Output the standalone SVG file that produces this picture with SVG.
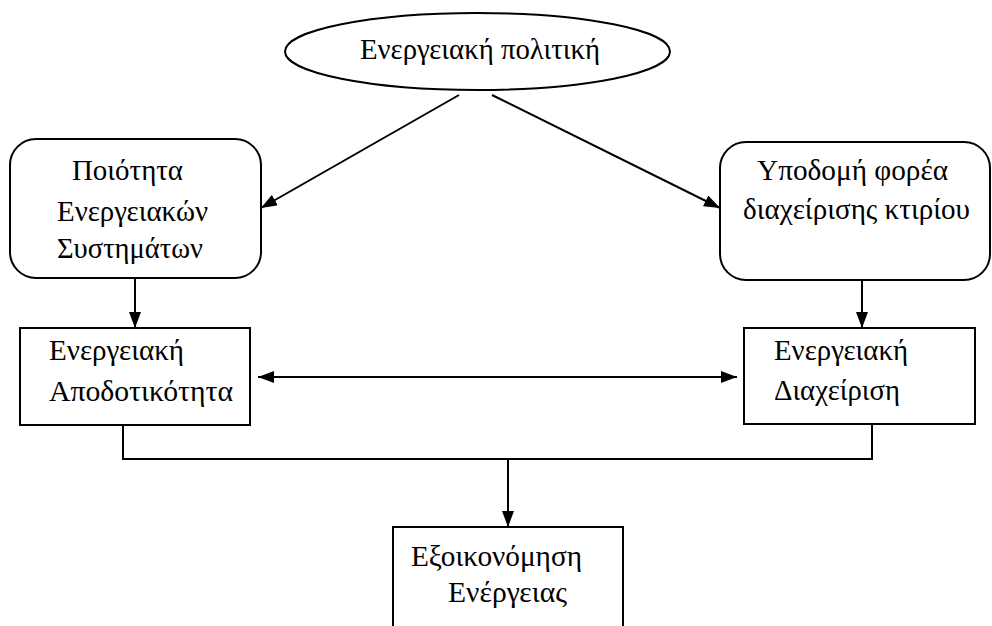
<svg xmlns="http://www.w3.org/2000/svg" width="992" height="626" viewBox="0 0 992 626">
<defs>
<marker id="ah" viewBox="0 0 16 12" refX="16" refY="6" markerWidth="16" markerHeight="12" markerUnits="userSpaceOnUse" orient="auto-start-reverse">
<path d="M0,0 L16,6 L0,12 Z" fill="#000"/>
</marker>
</defs>
<style>
.box{fill:#fff;stroke:#000;stroke-width:2}
.ln{fill:none;stroke:#000;stroke-width:2}
text{font-family:"Liberation Serif","Times New Roman",serif;font-size:29px;fill:#000}
</style>
<rect width="992" height="626" fill="#fff"/>
<g id="n-politiki">
<ellipse class="box" cx="477.5" cy="51.5" rx="192.5" ry="38.5"/>
<text x="360" y="59" textLength="240" lengthAdjust="spacingAndGlyphs">Ενεργειακή πολιτική</text>
</g>
<g id="n-poiotita">
<rect class="box" x="10" y="139" width="251" height="139" rx="26" ry="26"/>
<text x="72" y="180" textLength="111" lengthAdjust="spacingAndGlyphs">Ποιότητα</text>
<text x="57" y="221" textLength="151" lengthAdjust="spacingAndGlyphs">Ενεργειακών</text>
<text x="57" y="258" textLength="146" lengthAdjust="spacingAndGlyphs">Συστημάτων</text>
</g>
<g id="n-ypodomi">
<rect class="box" x="720" y="142" width="270" height="138" rx="26" ry="26"/>
<text x="757" y="180" textLength="191" lengthAdjust="spacingAndGlyphs">Υποδομή φορέα</text>
<text x="743" y="219" textLength="227" lengthAdjust="spacingAndGlyphs">διαχείρισης κτιρίου</text>
</g>
<g id="n-apodotikotita">
<rect class="box" x="20" y="328" width="230" height="97"/>
<text x="49" y="360" textLength="135" lengthAdjust="spacingAndGlyphs">Ενεργειακή</text>
<text x="49" y="401" textLength="184" lengthAdjust="spacingAndGlyphs">Αποδοτικότητα</text>
</g>
<g id="n-diaxeirisi">
<rect class="box" x="744" y="328" width="231" height="96"/>
<text x="774" y="360" textLength="134" lengthAdjust="spacingAndGlyphs">Ενεργειακή</text>
<text x="774" y="400" textLength="126" lengthAdjust="spacingAndGlyphs">Διαχείριση</text>
</g>
<g id="n-exoikonomisi">
<rect class="box" x="393" y="527" width="230" height="120"/>
<text x="411" y="566" textLength="171" lengthAdjust="spacingAndGlyphs">Εξοικονόμηση</text>
<text x="448" y="602" textLength="119" lengthAdjust="spacingAndGlyphs">Ενέργειας</text>
</g>
<g id="connectors">
<line class="ln" x1="459" y1="95" x2="261" y2="208" marker-end="url(#ah)"/>
<line class="ln" x1="492" y1="95" x2="720" y2="208" marker-end="url(#ah)"/>
<line class="ln" x1="135" y1="278" x2="135" y2="328" marker-end="url(#ah)"/>
<line class="ln" x1="862" y1="280" x2="862" y2="328" marker-end="url(#ah)"/>
<line class="ln" x1="258" y1="377" x2="737" y2="377" marker-start="url(#ah)" marker-end="url(#ah)"/>
<polyline class="ln" points="123,425 123,459 872,459 872,424"/>
<line class="ln" x1="508" y1="459" x2="508" y2="527" marker-end="url(#ah)"/>
</g>
</svg>
